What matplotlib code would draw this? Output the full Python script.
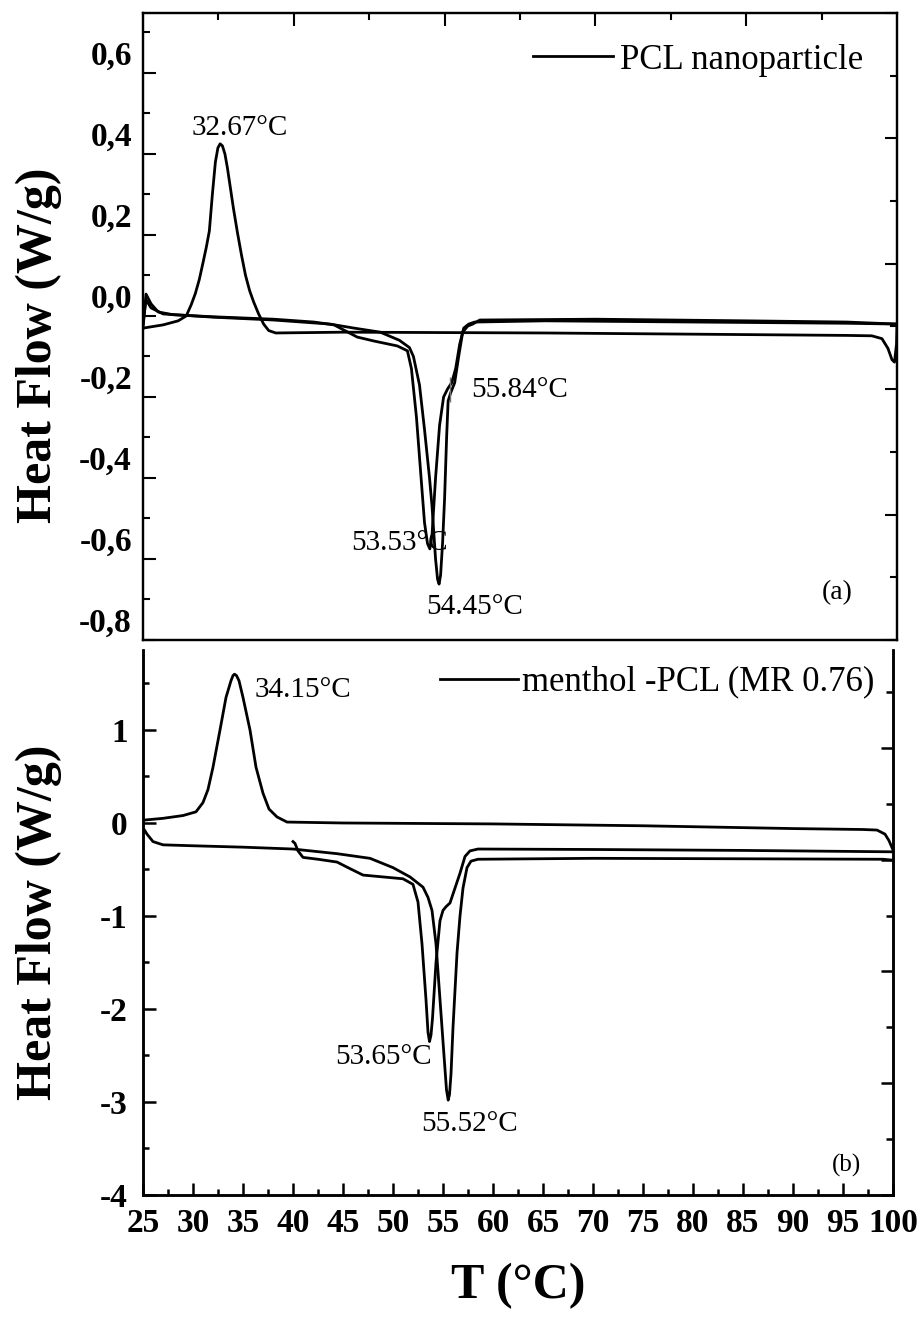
import numpy as np
import matplotlib
matplotlib.use('Agg')
import matplotlib.pyplot as plt
from matplotlib.ticker import MultipleLocator, FixedLocator, FuncFormatter
from matplotlib.transforms import ScaledTranslation

plt.rcParams['font.family'] = ['Liberation Serif', 'DejaVu Serif']
plt.rcParams['axes.unicode_minus'] = False

# ---- (a) PCL nanoparticle ----
a_cool_T = [25.0, 25.5, 27.0, 28.5, 29.3, 29.8, 30.2, 30.6, 31.0, 31.3, 31.6, 31.9, 32.2,
            32.45, 32.67, 32.9, 33.15, 33.4, 33.7, 34.0, 34.4, 34.8, 35.2, 35.6, 36.0, 36.5,
            37.0, 37.5, 38.2, 45, 55, 65, 75, 85, 95, 97.5, 98.5, 99.1, 99.5, 99.75, 99.95,
            100.0]
a_cool_HF = [-0.030, -0.028, -0.022, -0.012, 0.000, 0.028, 0.055, 0.090, 0.135, 0.170, 0.210,
             0.300, 0.380, 0.415, 0.425, 0.420, 0.400, 0.365, 0.315, 0.265, 0.205, 0.150,
             0.100, 0.063, 0.035, 0.005, -0.020, -0.036, -0.042, -0.040, -0.041, -0.042,
             -0.044, -0.046, -0.048, -0.049, -0.056, -0.080, -0.108, -0.114, -0.070, -0.020]

a_heat1_T = [25.0, 25.3, 25.8, 26.5, 28, 32, 38, 42, 44, 45, 46.3, 48, 50.3, 51.3, 51.7, 52.2,
             52.6, 53.0, 53.3, 53.53, 53.75, 54.1, 54.5, 54.9, 55.3, 55.7, 56.1, 56.5, 56.9,
             57.4, 58, 65, 80, 95, 100]
a_heat1_HF = [-0.030, 0.054, 0.030, 0.010, 0.003, -0.002, -0.008, -0.015, -0.022, -0.035,
              -0.052, -0.062, -0.074, -0.086, -0.130, -0.250, -0.380, -0.510, -0.562, -0.575,
              -0.540, -0.400, -0.270, -0.200, -0.180, -0.165, -0.130, -0.070, -0.030, -0.020,
              -0.015, -0.012, -0.015, -0.018, -0.020]

a_heat2_T = [25.0, 25.3, 25.8, 27, 32, 38, 43.6, 46, 48.6, 50.5, 51.5, 51.9, 52.5, 53.0, 53.5,
             53.75, 54.1, 54.3, 54.45, 54.6, 54.8, 55.0, 55.2, 55.35, 55.6, 56.0, 56.4, 56.8,
             57.3, 57.8, 58.5, 70, 85, 95, 100]
a_heat2_HF = [-0.020, 0.040, 0.020, 0.005, -0.003, -0.010, -0.020, -0.030, -0.040, -0.060,
              -0.078, -0.100, -0.170, -0.280, -0.400, -0.470, -0.600, -0.650, -0.662, -0.640,
              -0.560, -0.450, -0.300, -0.210, -0.190, -0.165, -0.100, -0.040, -0.025, -0.020,
              -0.010, -0.008, -0.012, -0.015, -0.020]

a_shoulder_T = [55.5]
a_shoulder_HF = [-0.18]

# ---- (b) menthol-PCL ----
b_cool_T = [25.0, 27, 29, 30.3, 31.0, 31.5, 32.0, 32.7, 33.3, 33.8, 34.0, 34.15, 34.35, 34.6,
            35.0, 35.7, 36.3, 37.0, 37.6, 38.4, 39.4, 45, 60, 75, 90, 97, 98.4, 99.2, 99.6,
            100.0]
b_cool_HF = [0.03, 0.05, 0.08, 0.12, 0.22, 0.36, 0.60, 1.00, 1.35, 1.53, 1.585, 1.60, 1.585,
             1.53, 1.35, 1.00, 0.60, 0.32, 0.15, 0.065, 0.01, 0.0, -0.01, -0.03, -0.06, -0.07,
             -0.076, -0.12, -0.19, -0.29]

b_heat1_T = [25.0, 25.4, 26, 27, 30, 35, 40, 44.4, 47.7, 50, 51.7, 53.0, 53.5, 53.9, 54.3, 54.7,
             55.1, 55.35, 55.52, 55.65, 55.8, 56.0, 56.4, 56.7, 57.0, 57.4, 57.8, 58.5, 70, 85,
             99, 100]
b_heat1_HF = [-0.05, -0.12, -0.20, -0.235, -0.245, -0.26, -0.28, -0.33, -0.38, -0.48, -0.58,
              -0.69, -0.80, -0.94, -1.30, -1.90, -2.50, -2.87, -2.98, -2.92, -2.70, -2.20,
              -1.40, -1.00, -0.70, -0.48, -0.41, -0.39, -0.38, -0.385, -0.39, -0.40]

b_heat2_T = [40.0, 40.2, 40.5, 41, 42.5, 44.4, 45.5, 47, 49, 51, 52, 52.5, 52.9, 53.3, 53.5,
             53.65, 53.8, 53.95, 54.3, 54.7, 55.0, 55.3, 55.7, 56.2, 56.7, 57.2, 57.7, 58.5, 70,
             85, 100]
b_heat2_HF = [-0.20, -0.22, -0.30, -0.37, -0.39, -0.42, -0.48, -0.56, -0.58, -0.60, -0.66,
              -0.85, -1.30, -1.90, -2.25, -2.35, -2.28, -2.10, -1.50, -1.05, -0.94, -0.90,
              -0.86, -0.70, -0.54, -0.36, -0.30, -0.28, -0.285, -0.295, -0.31]

# annotations: (text, T, HF)
a_notes = [('32.67°C', 34.65, 0.464), ('53.53°C', 50.56, -0.56),
           ('54.45°C', 58.0, -0.719), ('55.84°C', 62.5, -0.183)]
b_notes = [('34.15°C', 41.0, 1.43), ('53.65°C', 49.0, -2.52), ('55.52°C', 57.7, -3.24)]

W, H = 922, 1317
fig = plt.figure(figsize=(W / 100, H / 100), dpi=100)
ax1 = fig.add_axes([143 / W, 1 - 640 / H, 754 / W, 627 / H])
ax2 = fig.add_axes([143 / W, 1 - 1195 / H, 750 / W, 545 / H])
tw1 = ax1.twinx()
tw2 = ax2.twinx()

lw = 2.0
ax1.plot(a_cool_T, a_cool_HF, color='k', lw=lw, label='PCL nanoparticle')
ax1.plot(a_heat1_T, a_heat1_HF, color='k', lw=lw)
ax1.plot(a_heat2_T, a_heat2_HF, color='k', lw=lw)
ax1.plot(a_shoulder_T, a_shoulder_HF, ls='none', marker='|', ms=18, mew=1.0, color='0.45')

ax2.plot(b_cool_T, b_cool_HF, color='k', lw=lw, label='menthol -PCL (MR 0.76)')
ax2.plot(b_heat1_T, b_heat1_HF, color='k', lw=lw)
ax2.plot(b_heat2_T, b_heat2_HF, color='k', lw=lw)

for txt, x, y in a_notes:
    ax1.text(x, y, txt, fontsize=21, ha='center', va='center')
for txt, x, y in b_notes:
    ax2.text(x, y, txt, fontsize=21, ha='center', va='center')
ax1.text(0.921, 0.075, '(a)', fontsize=20, ha='center', va='center', transform=ax1.transAxes)
ax2.text(0.938, 0.055, '(b)', fontsize=18, ha='center', va='center', transform=ax2.transAxes)

# ---- axes (a) ----
ax1.set_xlim(25, 100)
ax1.set_ylim(-0.8, 0.748)
ax1.xaxis.set_major_locator(FixedLocator([40, 55, 70, 85]))
ax1.xaxis.set_minor_locator(FixedLocator([32.5, 47.5, 62.5, 77.5, 92.5]))
ax1.tick_params(axis='x', which='both', bottom=False, top=True, labelbottom=False,
                labeltop=False, direction='in', width=1.5)
ax1.tick_params(axis='x', which='major', length=9)
ax1.tick_params(axis='x', which='minor', length=5)
ax1.yaxis.set_major_locator(MultipleLocator(0.2))
ax1.yaxis.set_minor_locator(MultipleLocator(0.1))
ax1.yaxis.set_major_formatter(FuncFormatter(lambda v, p: f'{round(v, 1) + 0.0:.1f}'.replace('.', ',')))
ax1.tick_params(axis='y', which='both', left=True, right=False, direction='in', width=1.5,
                labelsize=24, pad=8)
ax1.tick_params(axis='y', which='major', length=9)
ax1.tick_params(axis='y', which='minor', length=5)
for lab in ax1.get_yticklabels():
    lab.set_fontweight('bold')

tw1.set_ylim(0, 1)
tw1.yaxis.set_major_locator(MultipleLocator(0.2))
tw1.yaxis.set_minor_locator(MultipleLocator(0.1))
tw1.tick_params(axis='y', which='both', right=True, left=False, labelright=False,
                direction='in', width=1.5)
tw1.tick_params(axis='y', which='major', length=9)
tw1.tick_params(axis='y', which='minor', length=5)

for ax in (ax1, tw1):
    for sp in ax.spines.values():
        sp.set_linewidth(1.6)

ax1.set_ylabel('Heat Flow (W/g)', fontsize=36, fontweight='bold')
ax1.yaxis.set_label_coords(-0.107, 0.47)
ax1.legend(loc='center left', bbox_to_anchor=(0.517, 0.925), frameon=False, fontsize=25,
           handlelength=2.3, handletextpad=0.2, borderpad=0, borderaxespad=0)

# ---- axes (b) ----
ax2.set_xlim(25, 100)
ax2.set_ylim(-4, 1.86)
ax2.xaxis.set_major_locator(MultipleLocator(5))
ax2.xaxis.set_minor_locator(MultipleLocator(2.5))
ax2.yaxis.set_major_locator(MultipleLocator(1))
ax2.yaxis.set_minor_locator(MultipleLocator(0.5))
ax2.tick_params(axis='both', which='both', direction='in', top=False, right=False, width=1.8)
ax2.tick_params(axis='both', which='major', length=9, labelsize=24)
ax2.tick_params(axis='both', which='minor', length=4.5)
ax2.tick_params(axis='y', which='major', pad=11)
ax2.tick_params(axis='x', which='major', pad=9)
for lab in ax2.get_xticklabels() + ax2.get_yticklabels():
    lab.set_fontweight('bold')

tw2.set_ylim(0, 9.75)
tw2.yaxis.set_major_locator(MultipleLocator(2))
tw2.yaxis.set_minor_locator(MultipleLocator(1))
tw2.tick_params(axis='y', which='both', right=True, left=False, labelright=False,
                direction='in', width=1.8)
tw2.tick_params(axis='y', which='major', length=9)
tw2.tick_params(axis='y', which='minor', length=5)

for ax in (ax2, tw2):
    ax.spines['top'].set_visible(False)
    for sp in ax.spines.values():
        sp.set_linewidth(1.8)

ax2.set_ylabel('Heat Flow (W/g)', fontsize=36, fontweight='bold')
ax2.yaxis.set_label_coords(-0.108, 0.5)
ax2.set_xlabel('T (°C)', fontsize=36, fontweight='bold')
ax2.xaxis.set_label_coords(0.5, -0.125)
ax2.legend(loc='center left', bbox_to_anchor=(0.396, 0.941), frameon=False, fontsize=25,
           handlelength=2.25, handletextpad=0.12, borderpad=0, borderaxespad=0)

# top panel labels sit half a step above their ticks in the original
shift = ScaledTranslation(0, 20 / 100, fig.dpi_scale_trans)
for lab in ax1.get_yticklabels():
    lab.set_transform(lab.get_transform() + shift)

fig.savefig('out.png', dpi=100)
